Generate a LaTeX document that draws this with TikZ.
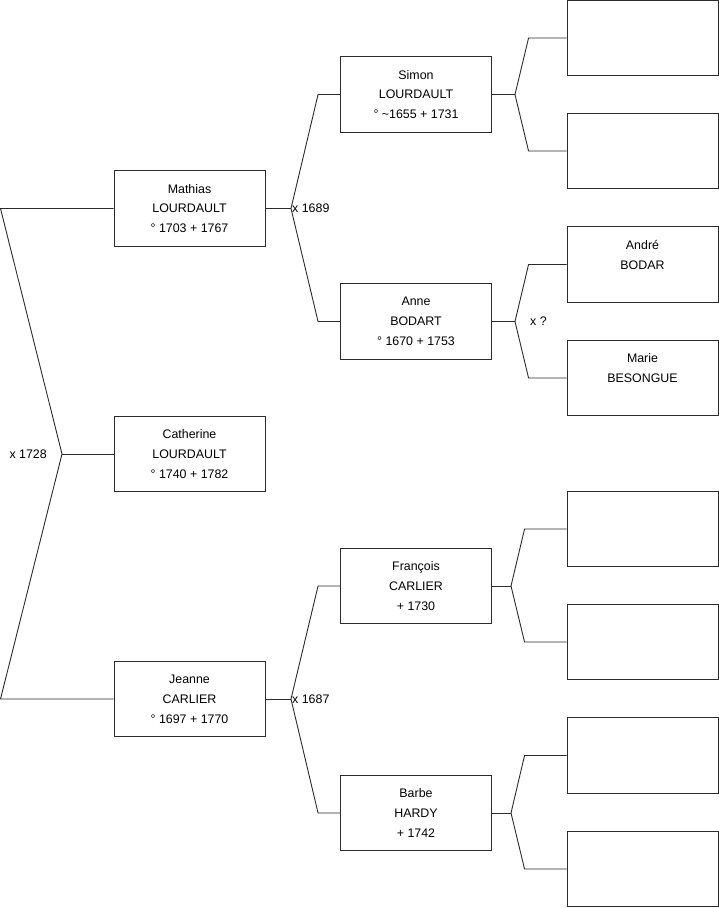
\documentclass[tikz,border=0pt]{standalone}
\usepackage{fontspec}
\setmainfont{Liberation Sans}
\usepackage{tikz}
\usetikzlibrary{calc, positioning}
\definecolor{LineGray}{HTML}{2B2B2B}

\begin{document}
\begin{tikzpicture}[
    x=1pt, y=-1pt,
    person/.style={draw=LineGray, line width=0.9pt, fill=white,
                   minimum width=151pt, minimum height=75.5pt,
                   inner sep=2pt, align=center,
                   font=\fontsize{12.4}{19.8}\selectfont},
    link/.style={draw=LineGray, line width=0.9pt},
    lab/.style={font=\fontsize{12.4}{19.8}\selectfont, inner sep=1pt}
  ]
    \useasboundingbox (0,0) rectangle (719,908);

    % Column 1: child and parents
    \node[person] (mathias)   at (189.5, 208.5) {Mathias\\LOURDAULT\\° 1703 + 1767};
    \node[person] (catherine) at (189.5, 454)   {Catherine\\LOURDAULT\\° 1740 + 1782};
    \node[person] (jeanne)    at (189.5, 699)   {Jeanne\\CARLIER\\° 1697 + 1770};

    % Column 2: grandparents
    \node[person] (simon)    at (416, 94.5)  {Simon\\LOURDAULT\\° \textasciitilde1655 + 1731};
    \node[person] (anne)     at (416, 321.5) {Anne\\BODART\\° 1670 + 1753};
    \node[person] (francois) at (416, 586)   {François\\CARLIER\\+ 1730};
    \node[person] (barbe)    at (416, 813)   {Barbe\\HARDY\\+ 1742};

    % Column 3: great-grandparents
    \node[person] (gg1) at (642.5, 38)    {};
    \node[person] (gg2) at (642.5, 151)   {};
    \node[person] (andre) at (642.5, 264.5) {André\\BODAR\\\mbox{}};
    \node[person] (marie) at (642.5, 378)   {Marie\\BESONGUE\\\mbox{}};
    \node[person] (gg5) at (642.5, 529)   {};
    \node[person] (gg6) at (642.5, 642)   {};
    \node[person] (gg7) at (642.5, 755.5) {};
    \node[person] (gg8) at (642.5, 869)   {};

    % Fork points
    \coordinate (ltop) at (0.5, 208.5);
    \coordinate (lbot) at (0.5, 699);
    \coordinate (j0) at (62, 454);
    \coordinate (j1) at (291, 208.5);
    \coordinate (j2) at (291, 699);
    \coordinate (j3) at (515, 94.5);
    \coordinate (j4) at (515, 321.5);
    \coordinate (j5) at (511, 586);
    \coordinate (j6) at (511, 813);

    % Fork: child -> parents
    \draw[link] (mathias.west) -- (ltop) -- (j0) -- (lbot) -- (jeanne.west);
    \draw[link] (j0) -- (catherine.west);

    % Forks: parents -> grandparents
    \draw[link] (mathias.east) -- (j1);
    \draw[link] (j1) -- ([xshift=-22pt]simon.west) -- (simon.west);
    \draw[link] (j1) -- ([xshift=-22pt]anne.west) -- (anne.west);
    \draw[link] (jeanne.east) -- (j2);
    \draw[link] (j2) -- ([xshift=-22pt]francois.west) -- (francois.west);
    \draw[link] (j2) -- ([xshift=-22pt]barbe.west) -- (barbe.west);

    % Forks: grandparents -> great-grandparents
    \draw[link] (simon.east) -- (j3);
    \draw[link] (j3) -- ([xshift=-38pt]gg1.west) -- (gg1.west);
    \draw[link] (j3) -- ([xshift=-38pt]gg2.west) -- (gg2.west);
    \draw[link] (anne.east) -- (j4);
    \draw[link] (j4) -- ([xshift=-38pt]andre.west) -- (andre.west);
    \draw[link] (j4) -- ([xshift=-38pt]marie.west) -- (marie.west);
    \draw[link] (francois.east) -- (j5);
    \draw[link] (j5) -- ([xshift=-42pt]gg5.west) -- (gg5.west);
    \draw[link] (j5) -- ([xshift=-42pt]gg6.west) -- (gg6.west);
    \draw[link] (barbe.east) -- (j6);
    \draw[link] (j6) -- ([xshift=-42pt]gg7.west) -- (gg7.west);
    \draw[link] (j6) -- ([xshift=-42pt]gg8.west) -- (gg8.west);

    % Marriage labels
    \node[lab, left=14pt of j0]  (m0) {x 1728};
    \node[lab, right=0pt of j1]  (m1) {x 1689};
    \node[lab, right=0pt of j2]  (m2) {x 1687};
    \node[lab, right=14pt of j4] (m4) {x ?};
  \end{tikzpicture}
\end{document}
